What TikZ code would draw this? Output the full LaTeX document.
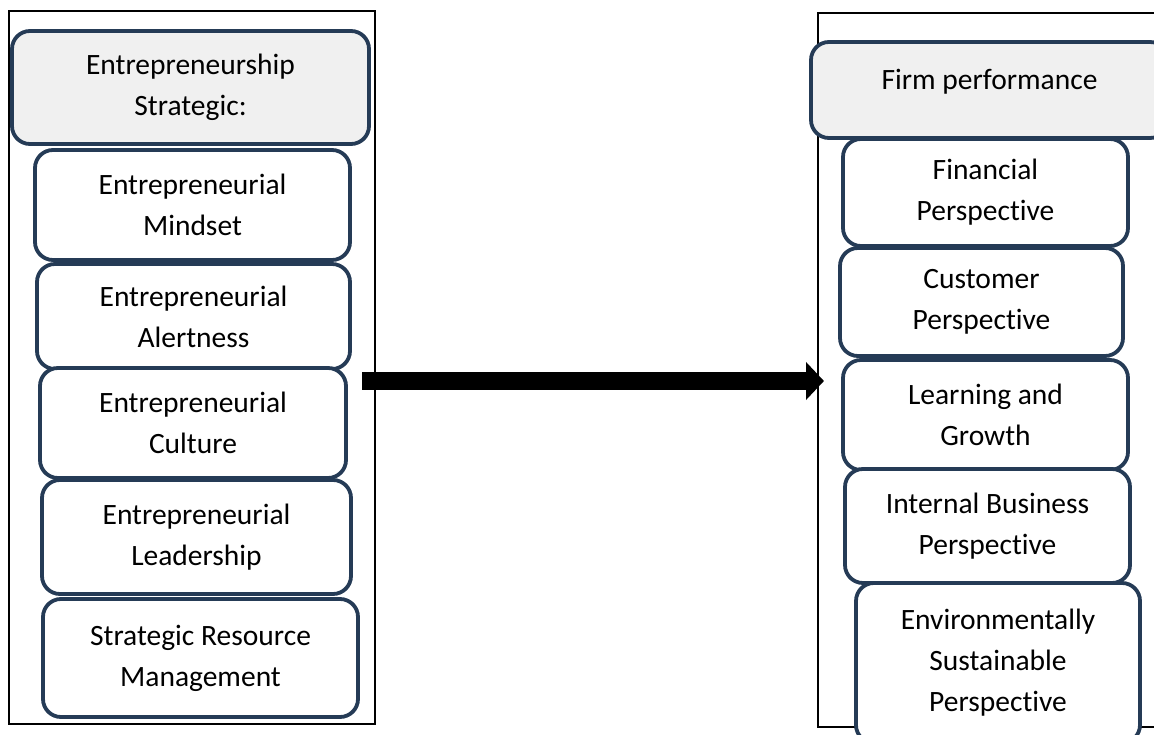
\documentclass[tikz,border=0pt]{standalone}
\usepackage{fontspec}
\setmainfont[Ligatures=NoCommon]{Carlito}
\usetikzlibrary{arrows.meta}
\definecolor{navy}{HTML}{253B56}
\definecolor{hdrgray}{HTML}{F0F0F0}
\tikzset{
  frame/.style={draw=black, line width=1.2pt},
  itembox/.style={draw=navy, line width=3.8pt, rounded corners=18pt, fill=white,
    align=center, inner sep=0pt,
    font={\fontsize{29.5}{41}\selectfont}},
  headbox/.style={itembox, fill=hdrgray},
  bigarrow/.style={line width=18pt, draw=black,
    -{Triangle[length=18pt, width=37pt]}}
}
\begin{document}
\begin{tikzpicture}[x=1pt, y=-1pt]
\useasboundingbox (0,0) rectangle (1154,735);
\clip (0,0) rectangle (1154,735);

% outer frames of the two groups
\draw[frame] (9,11) rectangle (375,724);
\draw[frame] (818,13) rectangle (1170,727);

% left group: strategic entrepreneurship
\node[headbox, minimum width=357pt, minimum height=113pt] (stratHead) at (190.5,87.5)
  {Entrepreneurship\\Strategic:};
\node[itembox, minimum width=315pt, minimum height=110pt] (mindset) at (192.5,205)
  {Entrepreneurial\\Mindset};
\node[itembox, minimum width=313pt, minimum height=105pt] (alert) at (193.5,316.5)
  {Entrepreneurial\\Alertness};
\node[itembox, minimum width=306pt, minimum height=110pt] (culture) at (193,423)
  {Entrepreneurial\\Culture};
\node[itembox, minimum width=309pt, minimum height=114pt] (lead) at (196.5,537)
  {Entrepreneurial\\Leadership};
\node[itembox, minimum width=315pt, minimum height=118pt] (srm) at (200.5,658)
  {Strategic Resource\\Management};

% right group: firm performance
\node[headbox, minimum width=357pt, minimum height=96pt, text depth=22pt] (perfHead) at (989.5,90)
  {Firm performance};
\node[itembox, minimum width=285pt, minimum height=107pt] (fin) at (985.5,192.5)
  {Financial\\Perspective};
\node[itembox, minimum width=283pt, minimum height=108pt] (cust) at (981.5,302)
  {Customer\\Perspective};
\node[itembox, minimum width=285pt, minimum height=110pt] (learn) at (985.5,415)
  {Learning and\\Growth};
\node[itembox, minimum width=285pt, minimum height=114pt] (internal) at (987.5,526)
  {Internal Business\\Perspective};
\node[itembox, minimum width=284pt, minimum height=160pt] (env) at (998,663)
  {Environmentally\\Sustainable\\Perspective};

% main arrow between the groups
\coordinate (arrTail) at (362,381);
\coordinate (arrTip) at (824,381);
\draw[bigarrow] (arrTail) -- (arrTip);
\end{tikzpicture}
\end{document}
